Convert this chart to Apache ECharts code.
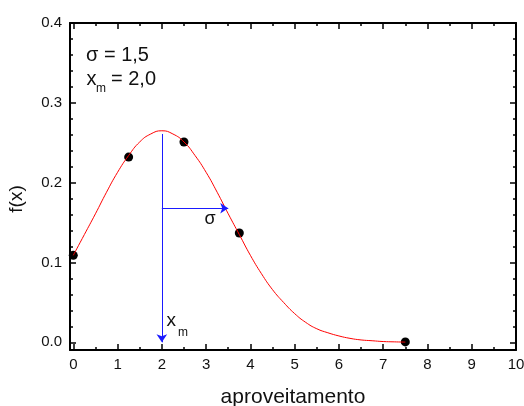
<!DOCTYPE html>
<html>
<head>
<meta charset="utf-8">
<script src="https://cdn.jsdelivr.net/npm/echarts@6/dist/echarts.min.js"></script>
<style>html,body{margin:0;padding:0;background:#fff}#c{width:524px;height:406px}</style>
</head>
<body>
<div id="c"></div>
<script>
// ---- data ----
var curveX = [0,0.25,0.5,0.75,1,1.25,1.5,1.75,2,2.25,2.5,2.75,3,3.25,3.5,3.75,4,4.25,4.5,4.75,5,5.25,5.5,5.75,6,6.25,6.5,6.75,7,7.25,7.5];
var curveY = [0.109,0.135,0.161,0.188,0.213,0.234,0.251,0.261,0.265,0.261,0.251,0.234,0.213,0.188,0.161,0.135,0.109,0.086,0.066,0.050,0.036,0.025,0.017,0.012,0.008,0.005,0.003,0.002,0.001,0.0006,0.0003];
var pointsX = [0,1.25,2.5,3.75,7.5];
var pointsY = [0.109,0.232,0.251,0.137,0.0005];
var xm = 2.0, sigma = 1.5, peakY = 0.261, sigmaArrowY = 0.168;
var xMajor = [0,1,2,3,4,5,6,7,8,9,10];
var xMinor = [0.5,1.5,2.5,3.5,4.5,5.5,6.5,7.5,8.5,9.5];
var yMajor = [0,0.1,0.2,0.3,0.4];
var yMinor = [0.02,0.04,0.06,0.08,0.12,0.14,0.16,0.18,0.22,0.24,0.26,0.28,0.32,0.34,0.36,0.38];
var xMin = -0.0745, xMax = 10, yMin = -0.0096, yMax = 0.4;

var FONT = 'Liberation Sans, Arial, sans-serif';
function xAx(g, pos, vals, len, showLine, showLabel){
  return {type:'value', gridIndex:g, position:pos, min:xMin, max:xMax,
    axisLine:{show:showLine, onZero:false, lineStyle:{color:'#000', width:2}},
    axisTick:{show:true, inside:true, length:len, customValues:vals, lineStyle:{color:'#000', width:1.5}},
    axisLabel:{show:showLabel, customValues:vals, margin:7, color:'#111', fontSize:15, fontFamily:FONT},
    splitLine:{show:false}};
}
function yAx(g, pos, vals, len, showLine, showLabel){
  return {type:'value', gridIndex:g, position:pos, min:yMin, max:yMax,
    axisLine:{show:showLine, onZero:false, lineStyle:{color:'#000', width:2}},
    axisTick:{show:true, inside:true, length:len, customValues:vals, lineStyle:{color:'#000', width:1.5}},
    axisLabel:{show:showLabel, customValues:vals, margin:8, color:'#111', fontSize:15, fontFamily:FONT,
      formatter:function(v){return v.toFixed(1);}},
    splitLine:{show:false}};
}
var xa0 = xAx(0, 'bottom', xMajor, 6, true, true);
xa0.name = 'aproveitamento'; xa0.nameLocation = 'middle'; xa0.nameGap = 37;
xa0.nameTextStyle = {fontSize:21, color:'#111', fontFamily:FONT};

var BLUE = '#1a1aff';
var G = {left:70, right:8, top:23, bottom:56, containLabel:false, outerBoundsMode:'none'};
var chart = echarts.init(document.getElementById('c'), null, {renderer:'canvas'});
chart.setOption({
  animation:false,
  grid:[G, Object.assign({}, G)],
  xAxis:[xa0, xAx(0,'top', xMajor, 6, true, false), xAx(1,'bottom', xMinor, 3, false, false), xAx(1,'top', xMinor, 3, false, false)],
  yAxis:[yAx(0,'left', yMajor, 6, true, true), yAx(0,'right', yMajor, 6, true, false), yAx(1,'left', yMinor, 3, false, false), yAx(1,'right', yMinor, 3, false, false)],
  series:[
    {type:'scatter', xAxisIndex:0, yAxisIndex:0, data:pointsX.map(function(x,i){return [x, pointsY[i]];}), symbol:'circle', symbolSize:9,
      itemStyle:{color:'#000', opacity:1}, z:2, silent:true},
    {type:'line', xAxisIndex:0, yAxisIndex:0, data:curveX.map(function(x,i){return [x, curveY[i]];}), smooth:0.5, showSymbol:false,
      lineStyle:{color:'#ff0000', width:1}, itemStyle:{color:'#ff0000'}, z:3, silent:true,
      markLine:{silent:true, symbol:['none','arrow'], symbolSize:8, label:{show:false},
        itemStyle:{color:BLUE},
        lineStyle:{color:BLUE, width:1, type:'solid', opacity:1},
        emphasis:{disabled:true},
        data:[
          [{coord:[xm, peakY], lineStyle:{color:BLUE}},{coord:[xm, 0]}],
          [{coord:[xm, sigmaArrowY], lineStyle:{color:BLUE}},{coord:[xm+sigma, sigmaArrowY]}]
        ]}}
  ],
  graphic:[
    {type:'text', x:86, y:55.5, style:{text:'\u03c3 = 1,5', font:'20px '+FONT, fill:'#111', verticalAlign:'middle'}},
    {type:'text', x:86.5, y:79, style:{text:'x', font:'20px '+FONT, fill:'#111', verticalAlign:'middle'}},
    {type:'text', x:96, y:89, style:{text:'m', font:'12px '+FONT, fill:'#111', verticalAlign:'middle'}},
    {type:'text', x:111, y:79, style:{text:'= 2,0', font:'20px '+FONT, fill:'#111', verticalAlign:'middle'}},
    {type:'text', x:166.5, y:321, style:{text:'x', font:'19px '+FONT, fill:'#111', verticalAlign:'middle'}},
    {type:'text', x:178, y:332.5, style:{text:'m', font:'12px '+FONT, fill:'#111', verticalAlign:'middle'}},
    {type:'text', x:204.5, y:219.5, style:{text:'\u03c3', font:'18px '+FONT, fill:'#111', verticalAlign:'middle'}},
    {type:'text', x:16.5, y:199, rotation:Math.PI/2, style:{text:'f(x)', font:'19px '+FONT, fill:'#111', align:'center', verticalAlign:'middle'}}
  ]
});
</script>
</body>
</html>
